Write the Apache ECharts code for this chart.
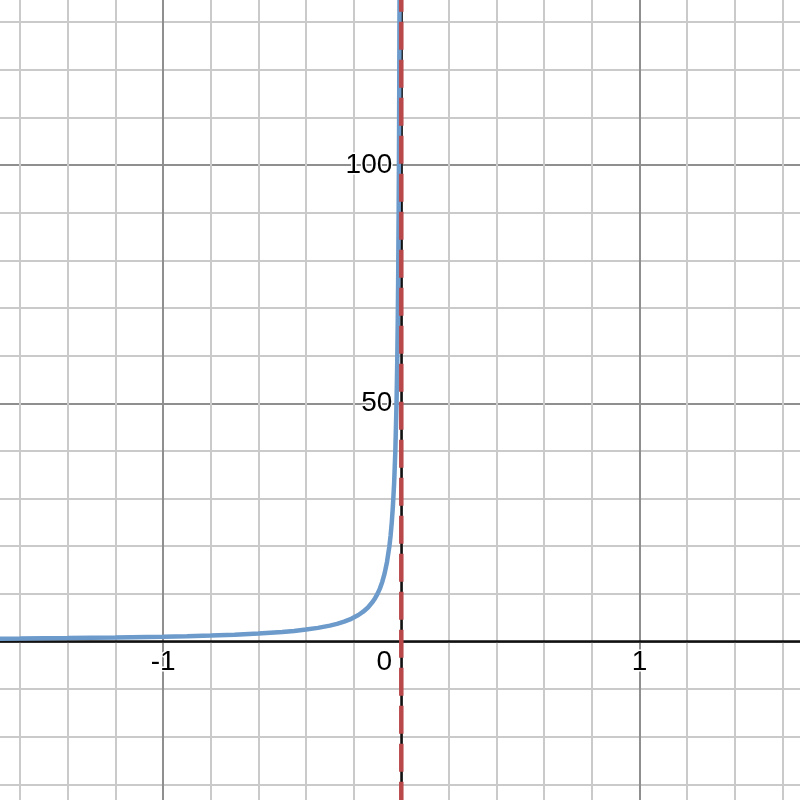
<!DOCTYPE html>
<html><head><meta charset="utf-8">
<script src="https://cdn.jsdelivr.net/npm/echarts@6/dist/echarts.min.js"></script>
<style>html,body{margin:0;padding:0;background:#fff}#c{width:800px;height:800px}</style>
</head><body><div id="c"></div>
<script>
// Curve (left branch only)
const curveX = [-2.0, -1.8, -1.6, -1.4, -1.2, -1.0, -0.9, -0.8, -0.7, -0.6, -0.5, -0.45, -0.4, -0.35, -0.3, -0.27, -0.24, -0.21, -0.18, -0.16, -0.14, -0.12, -0.11, -0.1, -0.09, -0.08, -0.07, -0.06, -0.05, -0.045, -0.04, -0.035, -0.03, -0.025, -0.02, -0.017, -0.015, -0.013, -0.011, -0.01, -0.009, -0.008, -0.007, -0.006];
const curveY = [0.5, 0.56, 0.63, 0.71, 0.83, 1.0, 1.11, 1.25, 1.43, 1.67, 2.0, 2.22, 2.5, 2.86, 3.33, 3.7, 4.17, 4.76, 5.56, 6.25, 7.14, 8.33, 9.09, 10, 11.1, 12.5, 14.3, 16.7, 20, 22.2, 25, 28.6, 33.3, 40, 50, 58.8, 66.7, 76.9, 90.9, 100, 111, 125, 143, 167];
// Vertical asymptote
const asymptoteX = [0, 0];
const asymptoteY = [-50, 150];
// Tick labels shown on the axes
const xTickLabels = [-1, 0, 1];
const yTickLabels = [50, 100];
// Axis ranges / tick spacing
const xRange = [-2, 2];
const yRange = [-50, 150];
const xMajor = 1, yMajor = 50, minorSplits = 5;

const curveData = curveX.map((x, i) => [x, curveY[i]]);
const asymData = asymptoteX.map((x, i) => [x, asymptoteY[i]]);
const xLabelData = xTickLabels.map(v => v === 0
  ? {value: [v, 0], label: {offset: [-17, 0]}}
  : {value: [v, 0]});
const yLabelData = yTickLabels.map(v => ({value: [0, v]}));

const font = 'Liberation Sans, Arial, Helvetica, sans-serif';
const labelStyle = {color: '#000000', fontSize: 28, fontFamily: font, textBorderColor: '#ffffff', textBorderWidth: 3, opacity: 1};

const axisCommon = {
  type: 'value',
  axisLine: {show: true, onZero: true, lineStyle: {color: '#111111', width: 2.5}},
  axisTick: {show: false},
  axisLabel: {show: false},
  minorTick: {show: false, splitNumber: minorSplits},
  splitLine: {show: true, lineStyle: {color: '#8f8f8f', width: 2}},
  minorSplitLine: {show: true, lineStyle: {color: '#cacaca', width: 2}}
};

const chart = echarts.init(document.getElementById('c'), null, {renderer: 'canvas'});
chart.setOption({
  animation: false,
  backgroundColor: '#ffffff',
  grid: {left: -75.1, right: -77.7, top: -73.1, bottom: -79.7, containLabel: false, outerBoundsMode: 'none'},
  xAxis: Object.assign({}, axisCommon, {min: xRange[0], max: xRange[1], interval: xMajor}),
  yAxis: Object.assign({}, axisCommon, {min: yRange[0], max: yRange[1], interval: yMajor}),
  series: [
    {
      type: 'line', data: curveData, showSymbol: false, smooth: false, clip: true, z: 3,
      lineStyle: {color: '#6b9acb', width: 4.5}
    },
    {
      type: 'line', data: asymData, showSymbol: false, clip: true, z: 4,
      lineStyle: {color: '#b9484b', width: 4.5, type: [28, 10], dashOffset: 6}
    },
    {
      type: 'scatter', data: xLabelData, symbolSize: 0, z: 5, silent: true,
      label: Object.assign({show: true, position: 'bottom', distance: 7, formatter: p => String(p.value[0])}, labelStyle)
    },
    {
      type: 'scatter', data: yLabelData, symbolSize: 0, z: 5, silent: true,
      label: Object.assign({show: true, position: 'left', distance: 9, formatter: p => String(p.value[1])}, labelStyle)
    }
  ]
});
</script>
</body></html>
